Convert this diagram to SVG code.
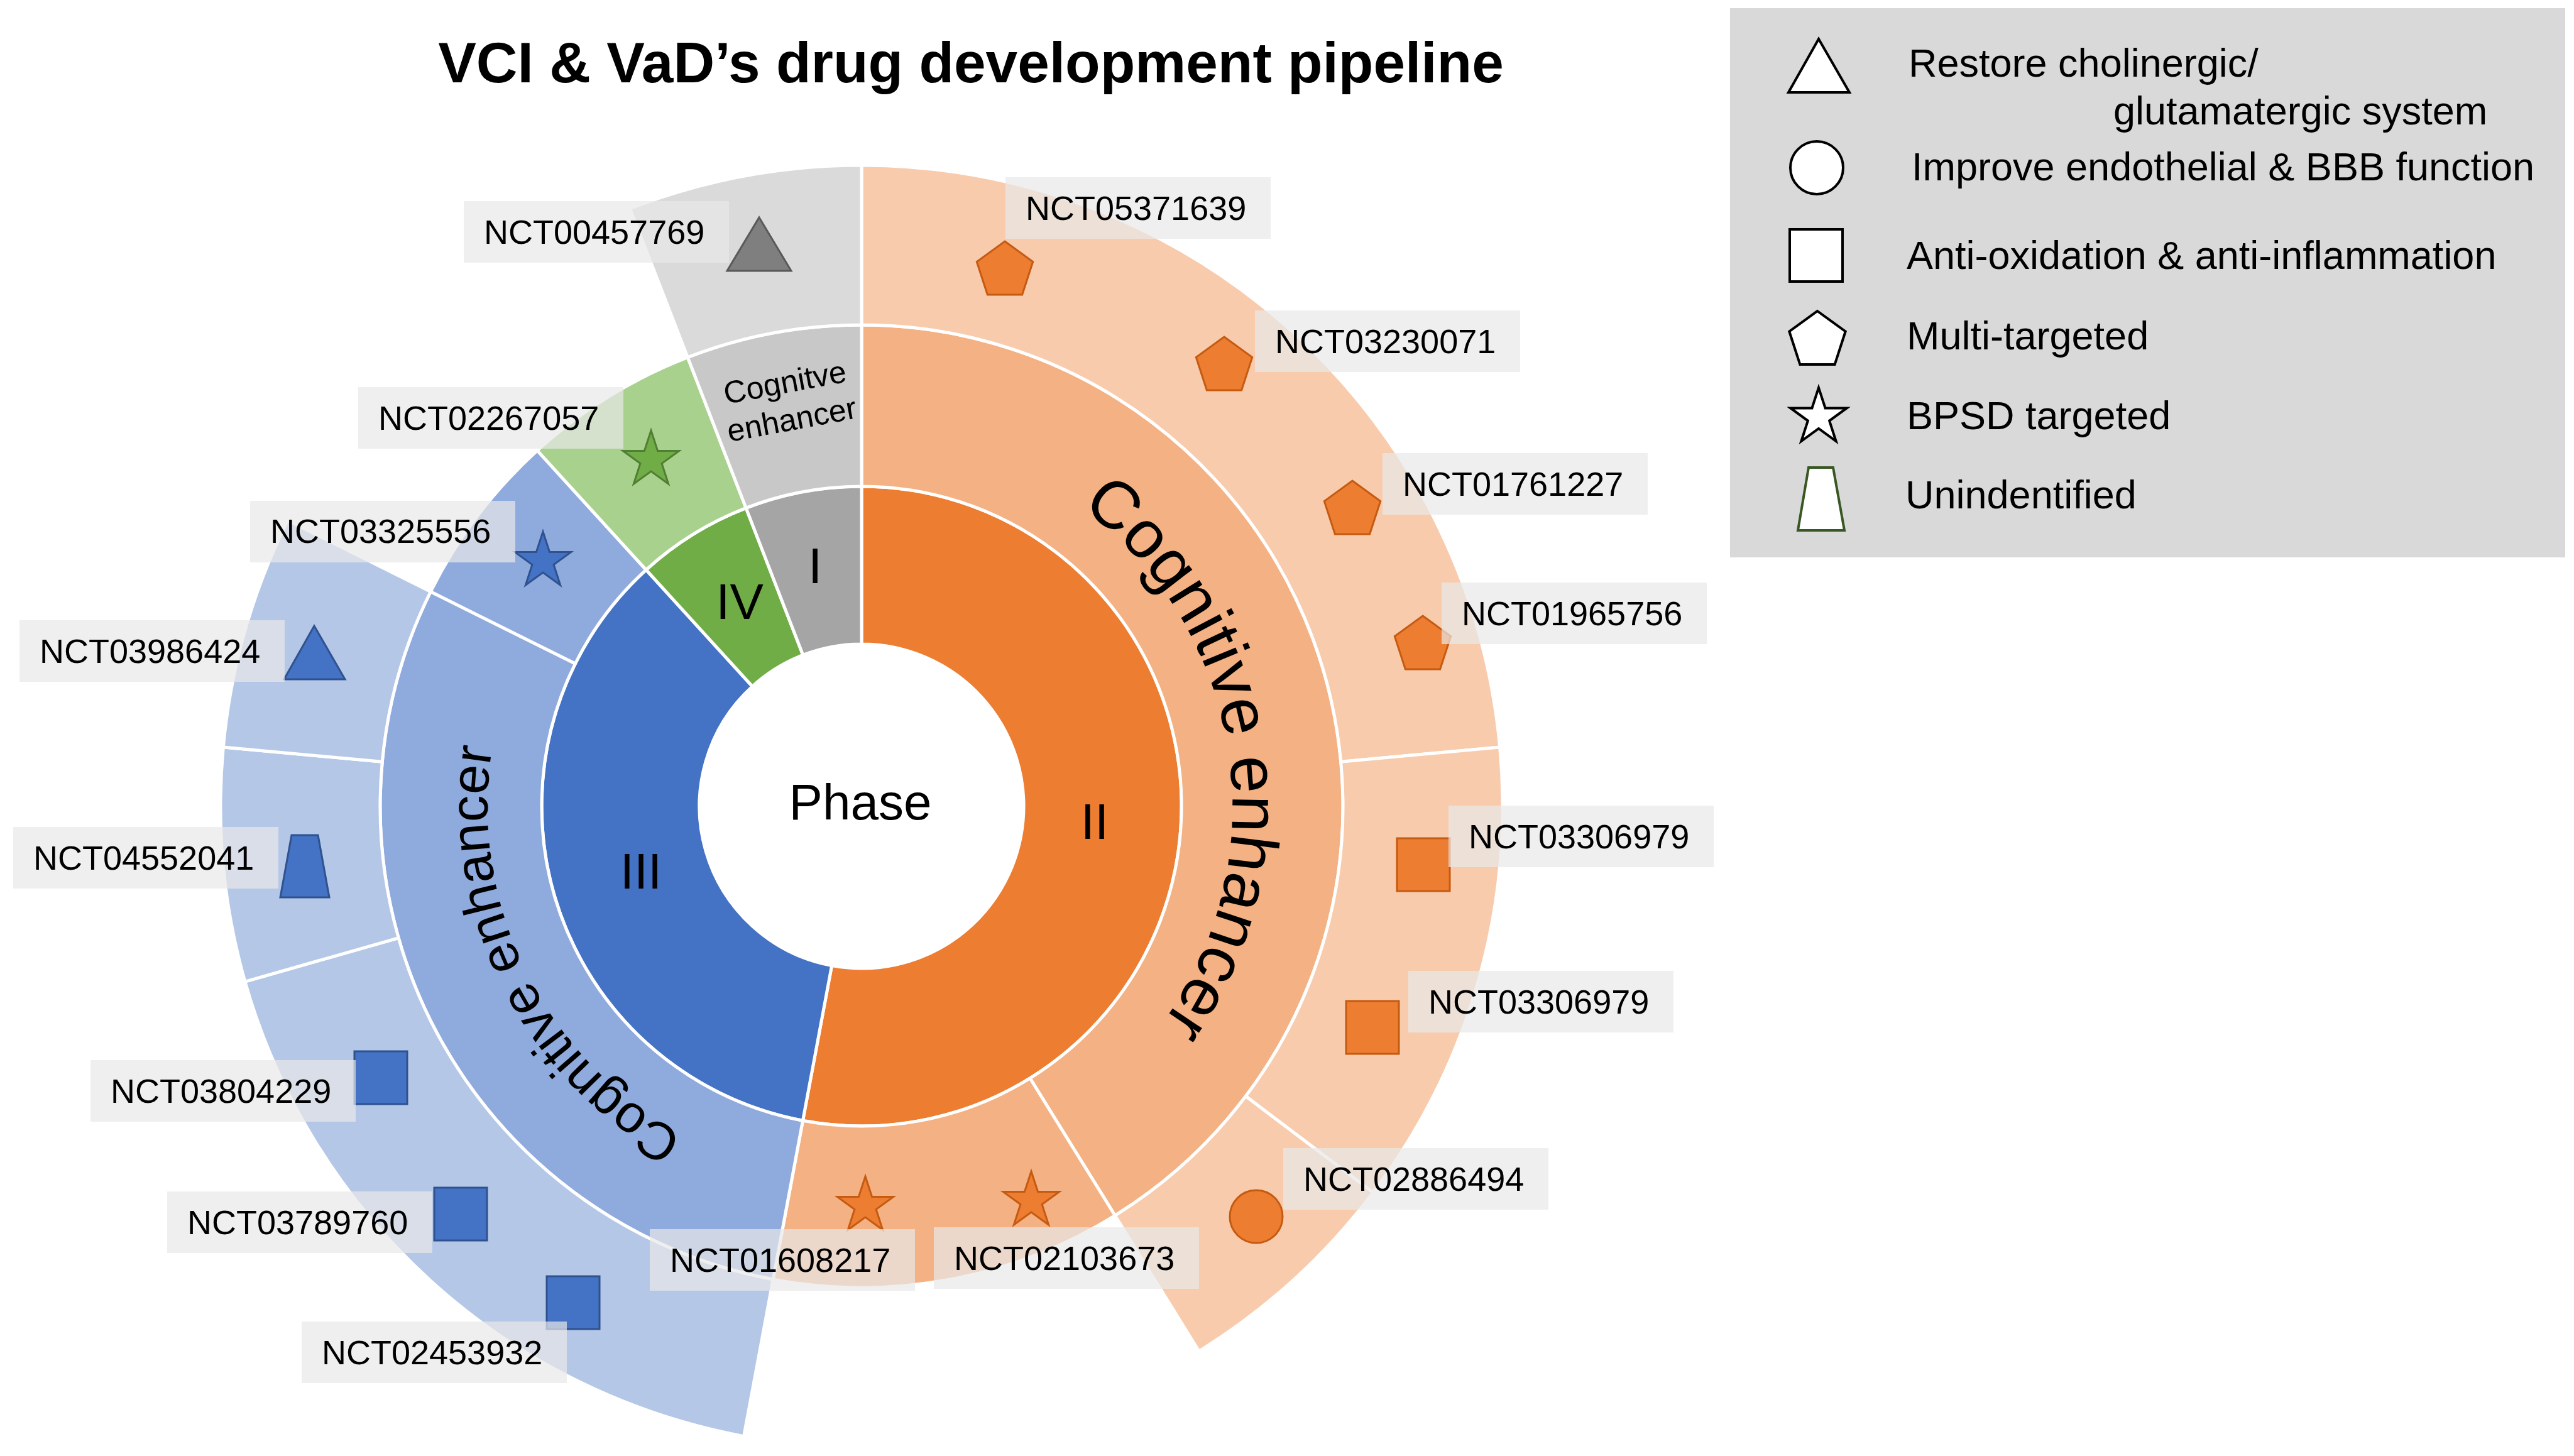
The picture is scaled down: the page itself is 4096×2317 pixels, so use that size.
<svg xmlns="http://www.w3.org/2000/svg" xmlns:xlink="http://www.w3.org/1999/xlink" width="4096" height="2317" viewBox="0 0 4096 2317">
<style>
text{font-family:"Liberation Sans",Arial,Helvetica,sans-serif;fill:#000}
.seg{stroke:#fff;stroke-width:5;stroke-linejoin:round}
.o1{fill:#ED7D31}.o2{fill:#F4B183}.o3{fill:#F8CBAD}
.b1{fill:#4472C4}.b2{fill:#8FAADC}.b3{fill:#B4C7E7}
.g1{fill:#70AD47}.g2{fill:#A9D18E}
.k1{fill:#A5A5A5}.k2{fill:#C8C8C8}.k3{fill:#DADADA}
.ph{font-size:80px;text-anchor:middle}
.ring{font-size:107px}
.lab{font-size:54px}
.box{fill:#E8E8E8;fill-opacity:0.7}
.mo{fill:#ED7D31;stroke:#C55A11;stroke-width:3}
.mb{fill:#4472C4;stroke:#2F528F;stroke-width:3}
.mg{fill:#70AD47;stroke:#507E32;stroke-width:3}
.mk{fill:#7F7F7F;stroke:#595959;stroke-width:3}
.lg{fill:#fff;stroke:#000;stroke-width:4}
.lt{font-size:63px}
</style>
<defs>
<path id="pent" d="M0,-47 L44.7,-14.52 L27.63,38.02 L-27.63,38.02 L-44.7,-14.52Z"/>
<path id="star" d="M0,-47 L10.58,-14.56 L44.7,-14.52 L17.12,5.56 L27.63,38.02 L0,18 L-27.63,38.02 L-17.12,5.56 L-44.7,-14.52 L-10.58,-14.56Z"/>
<rect id="sq" x="0" y="0" width="84" height="84"/>
<rect id="lbox" x="0" y="0" width="422" height="98"/>
<path id="arcO" d="M1381.3,693.1 A590,590 0 0 1 1563.1,1840.9"/>
<path id="arcB" d="M1487.6,1866.5 A595,595 0 0 1 978.2,836.1"/>
</defs>
<rect width="4096" height="2317" fill="#fff"/>

<text x="1545" y="131" font-size="91" font-weight="bold" text-anchor="middle">VCI &amp; VaD’s drug development pipeline</text>

<g id="phase-II">
<path class="seg o1" d="M1371,774 A509,509 0 1 1 1277.5,1783.3 L1323.6,1536.6 A258,258 0 1 0 1371,1025Z"/>
<text class="ph" x="1742" y="1335">II</text>
</g>
<g id="phase-III">
<path class="seg b1" d="M1277.5,1783.3 A509,509 0 0 1 1028.1,906.8 L1197.2,1092.3 A258,258 0 0 0 1323.6,1536.6Z"/>
<text class="ph" x="1020" y="1414">III</text>
</g>
<g id="phase-IV">
<path class="seg g1" d="M1028.1,906.8 A509,509 0 0 1 1187.1,808.4 L1277.8,1042.4 A258,258 0 0 0 1197.2,1092.3Z"/>
<text class="ph" x="1177" y="985">IV</text>
</g>
<g id="phase-I">
<path class="seg k1" d="M1187.1,808.4 A509,509 0 0 1 1371,774 L1371,1025 A258,258 0 0 0 1277.8,1042.4Z"/>
<text class="ph" x="1297" y="928">I</text>
</g>
<g id="center">
<text class="ph" x="1369" y="1304">Phase</text>
</g>

<g id="II-cognitive-enhancer">
<path class="seg o2" d="M1371,517 A766,766 0 0 1 1774.3,1934.3 L1639,1715.8 A509,509 0 0 0 1371,774Z"/>
<text class="ring"><textPath href="#arcO" xlink:href="#arcO" startOffset="50%" text-anchor="middle">Cognitive enhancer</textPath></text>
</g>
<g id="II-bpsd">
<path class="seg o2" d="M1774.3,1934.3 A766,766 0 0 1 1230.2,2036 L1277.5,1783.3 A509,509 0 0 0 1639,1715.8Z"/>
</g>
<g id="III-cognitive-enhancer">
<path class="seg b2" d="M1230.2,2036 A766,766 0 0 1 685.3,941.5 L915.4,1056.1 A509,509 0 0 0 1277.5,1783.3Z"/>
<text class="ring" style="font-size:85px"><textPath href="#arcB" xlink:href="#arcB" startOffset="50%" text-anchor="middle">Cognitive enhancer</textPath></text>
</g>
<g id="III-bpsd">
<path class="seg b2" d="M685.3,941.5 A766,766 0 0 1 854.9,716.9 L1028.1,906.8 A509,509 0 0 0 915.4,1056.1Z"/>
</g>
<g id="IV-bpsd">
<path class="seg g2" d="M854.9,716.9 A766,766 0 0 1 1094.3,568.7 L1187.1,808.4 A509,509 0 0 0 1028.1,906.8Z"/>
</g>
<g id="I-cognitive-enhancer">
<path class="seg k2" d="M1094.3,568.7 A766,766 0 0 1 1371,517 L1371,774 A509,509 0 0 0 1187.1,808.4Z"/>
<g transform="translate(1254,636) rotate(-10.6)">
<text x="0" y="-11" font-size="50" text-anchor="middle">Cognitve</text>
<text x="0" y="49" font-size="50" text-anchor="middle">enhancer</text>
</g>
</g>

<g id="II-multi">
<path class="seg o3" d="M1371,263 A1020,1020 0 0 1 2386.7,1188.9 L2133.7,1212.3 A766,766 0 0 0 1371,517Z"/>
</g>
<g id="II-antiox">
<path class="seg o3" d="M2386.7,1188.9 A1020,1020 0 0 1 2185,1897.7 L1982.3,1744.6 A766,766 0 0 0 2133.7,1212.3Z"/>
</g>
<g id="II-endothelial">
<path class="seg o3" d="M2185,1897.7 A1020,1020 0 0 1 1908,2150.3 L1774.3,1934.3 A766,766 0 0 0 1982.3,1744.6Z"/>
</g>
<g id="III-antiox">
<path class="seg b3" d="M1183.6,2285.6 A1020,1020 0 0 1 389.9,1562.1 L634.2,1492.6 A766,766 0 0 0 1230.2,2036Z"/>
</g>
<g id="III-unidentified">
<path class="seg b3" d="M389.9,1562.1 A1020,1020 0 0 1 355.3,1188.9 L608.3,1212.3 A766,766 0 0 0 634.2,1492.6Z"/>
</g>
<g id="III-cholinergic">
<path class="seg b3" d="M355.3,1188.9 A1020,1020 0 0 1 457.9,828.3 L685.3,941.5 A766,766 0 0 0 608.3,1212.3Z"/>
</g>
<g id="I-cholinergic">
<path class="seg k3" d="M1002.5,331.9 A1020,1020 0 0 1 1371,263 L1371,517 A766,766 0 0 0 1094.3,568.7Z"/>
</g>

<g id="markers">
<use href="#pent" xlink:href="#pent" class="mo" x="1599" y="431"/>
<use href="#pent" xlink:href="#pent" class="mo" x="1948" y="583"/>
<use href="#pent" xlink:href="#pent" class="mo" x="2152" y="812"/>
<use href="#pent" xlink:href="#pent" class="mo" x="2264" y="1027"/>
<use href="#sq" xlink:href="#sq" class="mo" x="2223" y="1334"/>
<use href="#sq" xlink:href="#sq" class="mo" x="2142" y="1593"/>
<circle class="mo" cx="1999" cy="1936" r="42"/>
<use href="#star" xlink:href="#star" class="mo" x="1377" y="1919"/>
<use href="#star" xlink:href="#star" class="mo" x="1641" y="1911"/>
<use href="#star" xlink:href="#star" class="mg" x="1036" y="732"/>
<use href="#star" xlink:href="#star" class="mb" x="864" y="893"/>
<path class="mb" d="M500,996 L549,1081 L452,1081Z"/>
<path class="mb" d="M464,1329 L506,1329 L524,1428 L446,1428Z"/>
<use href="#sq" xlink:href="#sq" class="mb" x="564" y="1673"/>
<use href="#sq" xlink:href="#sq" class="mb" x="691" y="1890"/>
<use href="#sq" xlink:href="#sq" class="mb" x="870" y="2031"/>
<path class="mk" d="M1208,346 L1259,431 L1157,431Z"/>
</g>

<g id="labels">
<use href="#lbox" xlink:href="#lbox" class="box" x="1600" y="282"/><text class="lab" x="1632" y="350">NCT05371639</text>
<use href="#lbox" xlink:href="#lbox" class="box" x="1997" y="494"/><text class="lab" x="2029" y="562">NCT03230071</text>
<use href="#lbox" xlink:href="#lbox" class="box" x="2200" y="721"/><text class="lab" x="2232" y="789">NCT01761227</text>
<use href="#lbox" xlink:href="#lbox" class="box" x="2294" y="927"/><text class="lab" x="2326" y="995">NCT01965756</text>
<use href="#lbox" xlink:href="#lbox" class="box" x="2305" y="1282"/><text class="lab" x="2337" y="1350">NCT03306979</text>
<use href="#lbox" xlink:href="#lbox" class="box" x="2241" y="1545"/><text class="lab" x="2273" y="1613">NCT03306979</text>
<use href="#lbox" xlink:href="#lbox" class="box" x="2042" y="1827"/><text class="lab" x="2074" y="1895">NCT02886494</text>
<use href="#lbox" xlink:href="#lbox" class="box" x="1486" y="1953"/><text class="lab" x="1518" y="2021">NCT02103673</text>
<use href="#lbox" xlink:href="#lbox" class="box" x="1034" y="1956"/><text class="lab" x="1066" y="2024">NCT01608217</text>
<use href="#lbox" xlink:href="#lbox" class="box" x="144" y="1687"/><text class="lab" x="176" y="1755">NCT03804229</text>
<use href="#lbox" xlink:href="#lbox" class="box" x="266" y="1896"/><text class="lab" x="298" y="1964">NCT03789760</text>
<use href="#lbox" xlink:href="#lbox" class="box" x="480" y="2103"/><text class="lab" x="512" y="2171">NCT02453932</text>
<use href="#lbox" xlink:href="#lbox" class="box" x="398" y="797"/><text class="lab" x="430" y="864">NCT03325556</text>
<use href="#lbox" xlink:href="#lbox" class="box" x="31" y="987"/><text class="lab" x="63" y="1055">NCT03986424</text>
<use href="#lbox" xlink:href="#lbox" class="box" x="21" y="1316"/><text class="lab" x="53" y="1384">NCT04552041</text>
<use href="#lbox" xlink:href="#lbox" class="box" x="738" y="320"/><text class="lab" x="770" y="388">NCT00457769</text>
<use href="#lbox" xlink:href="#lbox" class="box" x="570" y="616"/><text class="lab" x="602" y="684">NCT02267057</text>
</g>

<g id="legend">
<rect x="2753" y="13" width="1329" height="874" fill="#D9D9D9"/>
<path class="lg" d="M2894,62 L2943,147 L2846,147Z"/>
<text class="lt" x="3037" y="122">Restore cholinergic/</text>
<text class="lt" x="3363" y="198">glutamatergic system</text>
<circle class="lg" cx="2891" cy="267" r="42"/>
<text class="lt" x="3042" y="287">Improve endothelial &amp; BBB function</text>
<rect class="lg" x="2848" y="365" width="84" height="83"/>
<text class="lt" x="3034" y="428">Anti-oxidation &amp; anti-inflammation</text>
<use href="#pent" xlink:href="#pent" class="lg" x="2892" y="542"/>
<text class="lt" x="3034" y="556">Multi-targeted</text>
<use href="#star" xlink:href="#star" class="lg" x="2894" y="664"/>
<text class="lt" x="3034" y="683">BPSD targeted</text>
<path d="M2878,744 L2917,744 L2935,844 L2861,844Z" fill="#fff" stroke="#385723" stroke-width="4"/>
<text class="lt" x="3032" y="809">Unindentified</text>
</g>
<g id="connectors"/>
</svg>
